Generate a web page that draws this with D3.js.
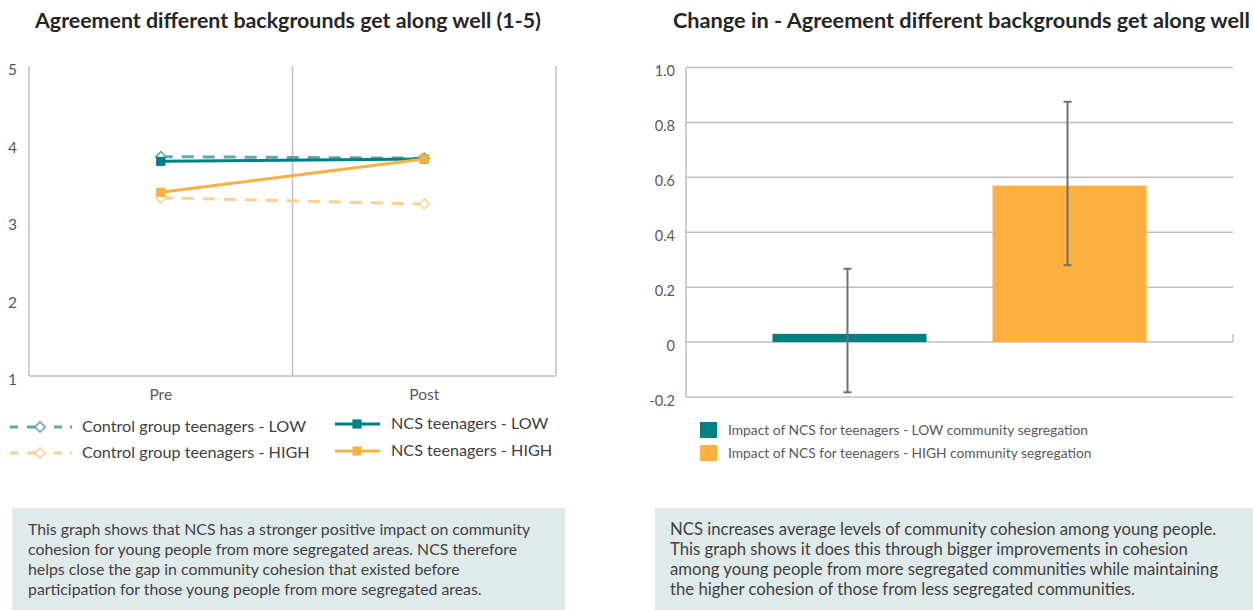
<!DOCTYPE html>
<html><head><meta charset="utf-8">
<script src="https://cdn.jsdelivr.net/npm/d3@7"></script>
<style>
body{margin:0;background:#fff;}
svg{display:block;font-family:Lato,"Noto Sans",sans-serif;}
</style></head>
<body><svg id="c" width="1253" height="610"></svg>
<script>
// ---- Data: left chart ----
const periods = ["Pre", "Post"];
const controlLow = [3.83, 3.81];
const ncsLow = [3.77, 3.80];
const ncsHigh = [3.37, 3.80];
const controlHigh = [3.30, 3.22];
const leftTicks = [1, 2, 3, 4, 5];
const leftSeriesNames = ["Control group teenagers - LOW", "NCS teenagers - LOW", "Control group teenagers - HIGH", "NCS teenagers - HIGH"];

// ---- Data: right chart ----
const impactNames = ["Impact of NCS for teenagers - LOW community segregation", "Impact of NCS for teenagers - HIGH community segregation"];
const impactValues = [0.03, 0.57];
const impactLower = [-0.183, 0.28];
const impactUpper = [0.267, 0.875];
const rightTicks = [-0.2, 0, 0.2, 0.4, 0.6, 0.8, 1.0];
const rightTickLabels = ["-0.2", "0", "0.2", "0.4", "0.6", "0.8", "1.0"];

const noteLeft = ["This graph shows that NCS has a stronger positive impact on community",
  "cohesion for young people from more segregated areas. NCS therefore",
  "helps close the gap in community cohesion that existed before",
  "participation for those young people from more segregated areas."];
const noteRight = ["NCS increases average levels of community cohesion among young people.",
  "This graph shows it does this through bigger improvements in cohesion",
  "among young people from more segregated communities while maintaining",
  "the higher cohesion of those from less segregated communities."];

const TEAL = "#008080", ORANGE = "#FBB040", TEAL_L = "#62A7A7", ORANGE_L = "#FDD08E";
const GRID = "#BFBFBF", TXT = "#595959", DARK = "#262626";

const svg = d3.select("#c");

function fitText(sel, target){
  const n = sel.node(); const w = n.getComputedTextLength();
  const fs = parseFloat(sel.attr("font-size"));
  const nf = fs * target / w;
  sel.attr("font-size", nf.toFixed(2));
  return nf;
}

// ================= LEFT CHART =================
const L = {x0: 29, x1: 556, y0: 66, y1: 376};
const xL = d3.scaleBand().domain(periods).range([L.x0, L.x1]);
const yL = d3.scaleLinear().domain([1, 5]).range([L.y1, L.y0]);

const gl = svg.append("g");
fitText(gl.append("text").attr("x", 35).attr("y", 28).attr("font-size", 18).attr("font-weight", "bold")
  .attr("fill", DARK).text("Agreement different backgrounds get along well (1-5)"), 506);

const bounds = [L.x0, xL("Post"), L.x1];
gl.selectAll("line.v").data(bounds).join("line")
  .attr("x1", d => d).attr("x2", d => d).attr("y1", L.y0).attr("y2", L.y1)
  .attr("stroke", GRID).attr("stroke-width", 1.5);
gl.append("line").attr("x1", L.x0).attr("x2", L.x1).attr("y1", L.y1).attr("y2", L.y1)
  .attr("stroke", GRID).attr("stroke-width", 1.5);

const yAxL = gl.append("g").attr("transform", `translate(${L.x0 - 12},0)`)
  .call(d3.axisLeft(yL).tickValues(leftTicks).tickSize(0).tickPadding(0).tickFormat(d3.format("d")));
yAxL.select(".domain").remove();
yAxL.selectAll("text").attr("font-size", 15.5).attr("fill", TXT).attr("font-family", "Lato, sans-serif").attr("dy", "0.55em");

const xAxL = gl.append("g").attr("transform", `translate(0,${L.y1})`)
  .call(d3.axisBottom(xL).tickSize(0).tickPadding(13));
xAxL.select(".domain").remove();
xAxL.selectAll("text").attr("font-size", 15.5).attr("fill", TXT).attr("font-family", "Lato, sans-serif");

const cx = p => xL(p) + xL.bandwidth() / 2;
const lineGen = d3.line().x((d, i) => cx(periods[i])).y(d => yL(d));

const series = [
  {name: leftSeriesNames[0], vals: controlLow, color: TEAL_L, dash: "12,9", marker: "diamond"},
  {name: leftSeriesNames[2], vals: controlHigh, color: ORANGE_L, dash: "12,9", marker: "diamond"},
  {name: leftSeriesNames[1], vals: ncsLow, color: TEAL, dash: null, marker: "square"},
  {name: leftSeriesNames[3], vals: ncsHigh, color: ORANGE, dash: null, marker: "square"}
];
const square = d3.symbol().type(d3.symbolSquare).size(85);

function drawMarker(g, type, color, x, y){
  if (type === "diamond"){
    g.append("path").attr("d", d3.symbol().type(d3.symbolSquare).size(52)())
      .attr("transform", `translate(${x},${y}) rotate(45)`)
      .attr("fill", "#fff").attr("stroke", color).attr("stroke-width", 1.5);
  } else {
    g.append("path").attr("d", square()).attr("transform", `translate(${x},${y})`).attr("fill", color);
  }
}

series.forEach(s => {
  gl.append("path").datum(s.vals).attr("d", lineGen).attr("fill", "none")
    .attr("stroke", s.color).attr("stroke-width", 3).attr("stroke-dasharray", s.dash);
  s.vals.forEach((v, i) => drawMarker(gl, s.marker, s.color, cx(periods[i]), yL(v)));
});

const legItems = [
  {s: series[0], x: 10, y: 427, tx: 82},
  {s: series[2], x: 335, y: 424, tx: 391},
  {s: series[1], x: 10, y: 453, tx: 82},
  {s: series[3], x: 335, y: 451, tx: 391}
];
legItems.forEach(it => {
  const s = it.s;
  if (s.marker === "diamond"){
    gl.append("line").attr("x1", it.x).attr("x2", it.x + 62).attr("y1", it.y).attr("y2", it.y)
      .attr("stroke", s.color).attr("stroke-width", 3).attr("stroke-dasharray", "8,9,9,0,9,9,8");
    drawMarker(gl, "diamond", s.color, it.x + 30, it.y);
  } else {
    gl.append("line").attr("x1", it.x).attr("x2", it.x + 45).attr("y1", it.y).attr("y2", it.y)
      .attr("stroke", s.color).attr("stroke-width", 3);
    drawMarker(gl, "square", s.color, it.x + 22, it.y);
  }
  gl.append("text").attr("x", it.tx).attr("y", it.y + 5).attr("font-size", 16.2).attr("fill", "#404040").text(s.name);
});

// ================= RIGHT CHART =================
const R = {x0: 686, x1: 1233};
const xR = d3.scaleBand().domain(impactNames).range([R.x0, R.x1]).paddingInner(0.3).paddingOuter(0.393);
const yR = d3.scaleLinear().domain([-0.2, 1.0]).range([397, 67.5]);
const gr = svg.append("g");

const rt = gr.append("text").attr("x", 673).attr("y", 28).attr("font-size", 18).attr("font-weight", "bold")
  .attr("fill", DARK).text("Change in - Agreement different backgrounds get along well");
fitText(rt, 577);

gr.selectAll("line.g").data(rightTicks).join("line")
  .attr("x1", R.x0).attr("x2", R.x1).attr("y1", d => yR(d)).attr("y2", d => yR(d))
  .attr("stroke", GRID).attr("stroke-width", 1.5);
gr.append("line").attr("x1", R.x0).attr("x2", R.x0).attr("y1", yR(1.0)).attr("y2", yR(-0.2))
  .attr("stroke", GRID).attr("stroke-width", 1.5);
gr.append("line").attr("x1", R.x1).attr("x2", R.x1).attr("y1", yR(0) - 8).attr("y2", yR(0))
  .attr("stroke", GRID).attr("stroke-width", 1.5);

const yAxR = gr.append("g").attr("transform", `translate(${R.x0 - 11},0)`)
  .call(d3.axisLeft(yR).tickValues(rightTicks).tickSize(0).tickPadding(0).tickFormat((d, i) => rightTickLabels[i]));
yAxR.select(".domain").remove();
yAxR.selectAll("text").attr("font-size", 14.5).attr("fill", TXT).attr("font-family", "Lato, sans-serif").attr("dy", "0.58em");

const barColors = [TEAL, ORANGE];
gr.selectAll("rect.b").data(impactValues).join("rect")
  .attr("x", (d, i) => xR(impactNames[i])).attr("width", xR.bandwidth())
  .attr("y", d => yR(Math.max(0, d))).attr("height", d => Math.abs(yR(d) - yR(0)))
  .attr("fill", (d, i) => barColors[i]);

impactNames.forEach((n, i) => {
  const x = xR(n) + xR.bandwidth() / 2 - 2;
  const g = gr.append("g").attr("stroke", "#707070").attr("stroke-width", 2);
  g.append("line").attr("x1", x).attr("x2", x).attr("y1", yR(impactUpper[i])).attr("y2", yR(impactLower[i]));
  [impactUpper[i], impactLower[i]].forEach(v => g.append("line").attr("x1", x - 4).attr("x2", x + 4).attr("y1", yR(v)).attr("y2", yR(v)));
});

impactNames.forEach((n, i) => {
  const y = 422 + i * 23;
  gr.append("rect").attr("x", 700).attr("y", y).attr("width", 17).attr("height", 16).attr("fill", barColors[i]);
  gr.append("text").attr("x", 728).attr("y", y + 13).attr("font-size", 13.8).attr("fill", TXT).text(n);
});

// ================= NOTE BOXES =================
function note(x, w, lines, tx, firstWidth){
  svg.append("rect").attr("x", x).attr("y", 508).attr("width", w).attr("height", 102).attr("fill", "#E1EAEB");
  const texts = lines.map((t, i) => svg.append("text").attr("x", tx).attr("y", 535 + i * 20).attr("font-size", 15.9).attr("fill", "#404040").text(t));
  const fs = fitText(texts[0], firstWidth);
  texts.forEach(t => t.attr("font-size", fs.toFixed(2)));
}
note(12, 553, noteLeft, 28, 502);
note(655, 598, noteRight, 670, 546);
</script></body></html>
